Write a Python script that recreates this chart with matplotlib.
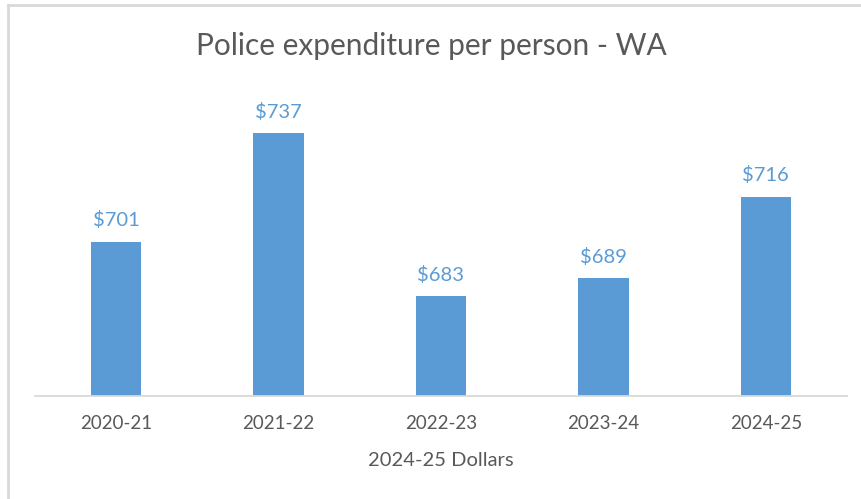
import numpy as np
import matplotlib.pyplot as plt
from matplotlib.lines import Line2D

# data
years = ['2020-21', '2021-22', '2022-23', '2023-24', '2024-25']
spend = [701, 737, 683, 689, 716]

blue = '#5B9BD5'
grey_txt = '#595959'

plt.rcParams['font.family'] = ['Lato', 'DejaVu Sans']

fig = plt.figure(figsize=(8.62, 4.99), dpi=100)
ax = fig.add_axes([0.0406, 0.2064, 0.942, 0.6052])

x = np.arange(len(years))
ax.bar(x, spend, width=0.31, color=blue, zorder=2)
for xi, v in zip(x, spend):
    ax.annotate(f'${v}', (xi, v), xytext=(0, 9), textcoords='offset points',
                ha='center', va='bottom', color=blue, fontsize=14.5)

ax.set_xlim(-0.5, len(years) - 0.5)
ax.set_ylim(650, 750)
ax.set_yticks([])
ax.set_xticks(x)
ax.set_xticklabels(years, fontsize=13.5, color=grey_txt)
ax.tick_params(axis='x', length=0, pad=14)
for s in ['top', 'right', 'left']:
    ax.spines[s].set_visible(False)
ax.spines['bottom'].set_color('#D9D9D9')
ax.spines['bottom'].set_linewidth(1.3)

ax.set_xlabel('2024-25 Dollars', fontsize=14.5, color=grey_txt, labelpad=14)
fig.text(0.5, 0.908, 'Police expenditure per person - WA', ha='center', va='center',
         fontsize=21.5, color=grey_txt)

# chart border (partly cropped in the reference)
fig.add_artist(Line2D([0.0093, 0.0093], [0, 0.99], transform=fig.transFigure,
                      color='#D9D9D9', lw=2))
fig.add_artist(Line2D([0.0093, 1], [0.99, 0.99], transform=fig.transFigure,
                      color='#D9D9D9', lw=2))

fig.savefig('out.png', dpi=100)
